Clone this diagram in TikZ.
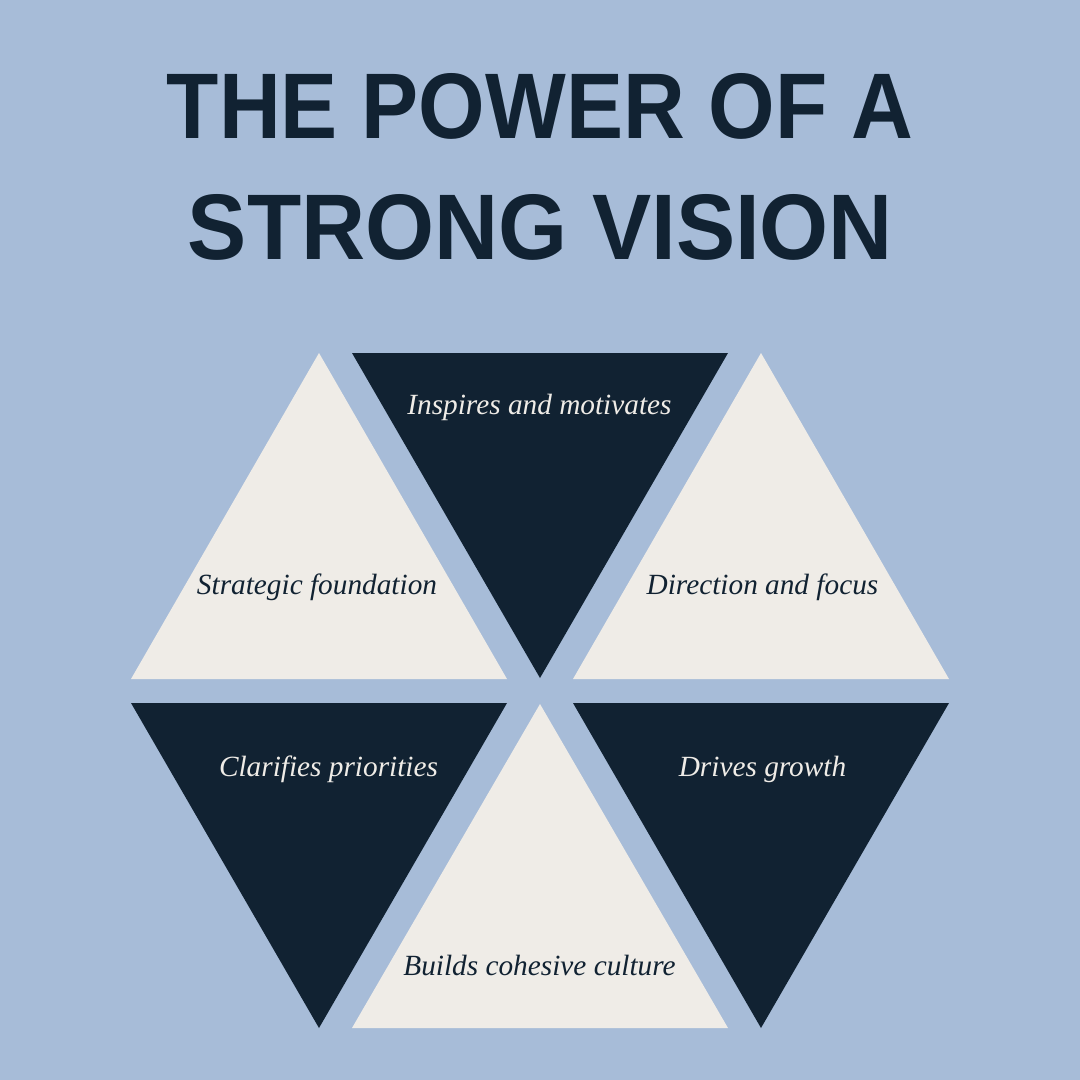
\documentclass[tikz,border=0pt]{standalone}
\usepackage{fontspec}
\setmainfont{Liberation Serif}
\newfontfamily\titlefont{Liberation Sans}
\definecolor{bgblue}{HTML}{A7BCD8}
\definecolor{navy}{HTML}{112232}
\definecolor{cream}{HTML}{EFECE7}
\begin{document}
\begin{tikzpicture}[x=1pt,y=-1pt,
  uptri/.style={fill=cream},
  downtri/.style={fill=navy},
  darklabel/.style={text=navy,font=\fontsize{29.3}{31}\selectfont\itshape,inner sep=0pt,anchor=base},
  lightlabel/.style={text=cream,font=\fontsize{29.3}{31}\selectfont\itshape,inner sep=0pt,anchor=base},
  titleline/.style={text=navy,font=\titlefont\bfseries,inner sep=0pt,anchor=base}]
\fill[bgblue] (0,0) rectangle (1080,1080);
\useasboundingbox (0,0) rectangle (1080,1080);
% title
\node[titleline] (t1) at (540,138) {\resizebox{746pt}{65pt}{THE POWER OF A}};
\node[titleline] (t2) at (540.5,259) {\resizebox{705pt}{65pt}{STRONG VISION}};
% triangles
\fill[uptri] (319,353) -- (507,679) -- (131,679) -- cycle;
\fill[downtri] (352,353) -- (728,353) -- (540,678) -- cycle;
\fill[uptri] (761,353) -- (949,679) -- (573,679) -- cycle;
\fill[downtri] (131,703) -- (507,703) -- (319,1028) -- cycle;
\fill[uptri] (540,704) -- (728,1028) -- (352,1028) -- cycle;
\fill[downtri] (573,703) -- (949,703) -- (761,1028) -- cycle;
% labels
\node[lightlabel] (l1) at (539.5,414) {Inspires and motivates};
\node[darklabel] (l2) at (317,594) {Strategic foundation};
\node[darklabel] (l3) at (762.5,594) {Direction and focus};
\node[lightlabel] (l4) at (328.5,776) {Clarifies priorities};
\node[lightlabel] (l5) at (762.5,776) {Drives growth};
\node[darklabel] (l6) at (539.5,975) {Builds cohesive culture};
\end{tikzpicture}
\end{document}
